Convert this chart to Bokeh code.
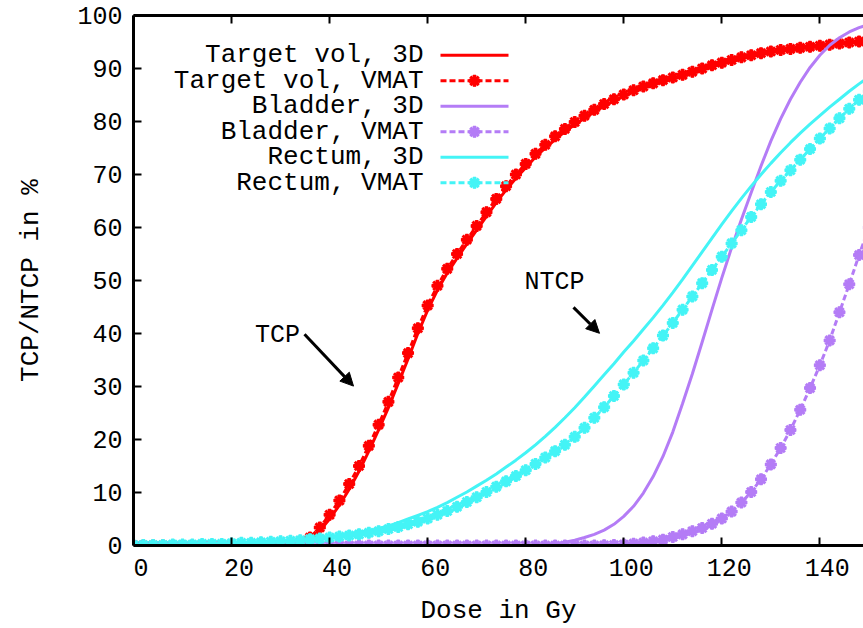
from bokeh.plotting import figure
from bokeh.models import (Range1d, LinearAxis, SingleIntervalTicker, Arrow, NormalHead,
                          Label, CustomJSTickFormatter)
from bokeh.embed import file_html
from bokeh.resources import INLINE

# ---------------- data ----------------
dose = [0, 2, 4, 6, 8, 10, 12, 14, 16, 18, 20, 22, 24, 26, 28, 30, 32, 34, 36, 38,
        40, 42, 44, 46, 48, 50, 52, 54, 56, 58, 60, 62, 64, 66, 68, 70, 72, 74, 76, 78,
        80, 82, 84, 86, 88, 90, 92, 94, 96, 98, 100, 102, 104, 106, 108, 110, 112, 114, 116, 118,
        120, 122, 124, 126, 128, 130, 132, 134, 136, 138, 140, 142, 144, 146, 148, 150]

target_3d = [0, 0, 0, 0, 0, 0, 0, 0, 0, 0, 0, 0, 0, 0, 0, 0, 0.1, 0.3, 1.0, 2.8,
             5.0, 7.6, 10.6, 14.0, 17.8, 21.8, 26.0, 30.6, 35.2, 40.0, 44.4, 48.2, 51.4, 54.2, 56.9, 59.5, 62.1, 64.7, 67.1, 69.3,
             71.3, 73.3, 75.0, 76.6, 78.1, 79.4, 80.6, 81.8, 82.9, 83.9, 84.8, 85.6, 86.4, 87.0, 87.6, 88.1, 88.6, 89.2, 89.8, 90.4,
             91.0, 91.5, 92.0, 92.4, 92.8, 93.1, 93.4, 93.6, 93.8, 94.0, 94.2, 94.4, 94.6, 94.8, 95.0, 95.1]

target_vmat = [0, 0, 0, 0, 0, 0, 0, 0, 0, 0, 0, 0, 0, 0, 0, 0, 0.2, 0.6, 1.5, 3.4,
               5.8, 8.5, 11.6, 15.0, 18.8, 22.8, 27.1, 31.7, 36.3, 41.0, 45.3, 49.0, 52.2, 55.0, 57.7, 60.3, 62.9, 65.4, 67.8, 70.0,
               72.0, 73.9, 75.6, 77.2, 78.6, 79.9, 81.1, 82.2, 83.3, 84.2, 85.1, 85.9, 86.6, 87.2, 87.8, 88.3, 88.8, 89.4, 90.0, 90.6,
               91.1, 91.6, 92.1, 92.5, 92.9, 93.2, 93.5, 93.7, 93.9, 94.1, 94.3, 94.5, 94.7, 94.9, 95.1, 95.2]

bladder_3d = [0, 0, 0, 0, 0, 0, 0, 0, 0, 0, 0, 0, 0, 0, 0, 0, 0, 0, 0, 0,
              0, 0, 0, 0, 0, 0, 0, 0, 0, 0, 0, 0, 0, 0, 0, 0, 0, 0, 0, 0,
              0, 0.05, 0.15, 0.3, 0.6, 1.0, 1.5, 2.1, 2.9, 4.0, 5.5, 7.4, 9.9, 13.0, 16.8, 21.4, 26.8, 32.4, 38.4, 44.5,
              50.5, 56.2, 61.5, 66.6, 71.6, 76.3, 80.5, 84.2, 87.4, 90.2, 92.5, 94.4, 95.8, 96.9, 97.7, 98.3]

bladder_vmat = [0, 0, 0, 0, 0, 0, 0, 0, 0, 0, 0, 0, 0, 0, 0, 0, 0, 0, 0, 0,
                0, 0, 0, 0, 0, 0, 0, 0, 0, 0, 0, 0, 0, 0, 0, 0, 0, 0, 0, 0,
                0, 0, 0, 0, 0, 0, 0, 0, 0.05, 0.1, 0.2, 0.35, 0.55, 0.8, 1.1, 1.6, 2.1, 2.7, 3.3, 4.1,
                5.1, 6.4, 8.1, 10.1, 12.5, 15.3, 18.4, 21.8, 25.6, 29.7, 34.0, 38.7, 44.0, 49.3, 54.8, 60.0]

rectum_3d = [0.1, 0.1, 0.1, 0.2, 0.2, 0.2, 0.3, 0.3, 0.4, 0.4, 0.5, 0.5, 0.6, 0.7, 0.8, 0.9, 1.0, 1.1, 1.3, 1.5,
             1.7, 1.9, 2.2, 2.5, 2.8, 3.2, 3.7, 4.3, 5.0, 5.7, 6.4, 7.2, 8.1, 9.1, 10.1, 11.2, 12.3, 13.5, 14.8, 16.1,
             17.5, 19.0, 20.6, 22.3, 24.1, 26.0, 28.0, 30.1, 32.2, 34.3, 36.5, 38.6, 40.8, 43.0, 45.3, 47.7, 50.2, 52.8, 55.4, 58.0,
             60.6, 63.1, 65.5, 67.8, 70.0, 72.1, 74.1, 76.0, 77.8, 79.5, 81.1, 82.7, 84.2, 85.7, 87.1, 88.4]

rectum_vmat = [0.1, 0.1, 0.1, 0.1, 0.2, 0.2, 0.2, 0.3, 0.3, 0.3, 0.4, 0.5, 0.5, 0.6, 0.7, 0.8, 0.9, 1.0, 1.2, 1.3,
               1.5, 1.7, 1.9, 2.1, 2.4, 2.7, 3.1, 3.5, 4.0, 4.5, 5.1, 5.8, 6.5, 7.3, 8.2, 9.1, 10.1, 11.1, 12.1, 13.1,
               14.2, 15.4, 16.6, 17.8, 19.0, 20.5, 22.2, 24.1, 26.1, 28.2, 30.4, 32.6, 34.9, 37.2, 39.6, 42.0, 44.5, 47.0, 49.5, 52.0,
               54.5, 57.0, 59.5, 62.0, 64.4, 66.7, 68.8, 70.8, 72.8, 74.8, 76.8, 78.7, 80.6, 82.4, 84.1, 85.7]

series_names = ["Target vol, 3D", "Target vol, VMAT", "Bladder, 3D",
                "Bladder, VMAT", "Rectum, 3D", "Rectum, VMAT"]
x_ticks_major = 20
y_ticks_major = 10
x_title = "Dose in Gy"
y_title = "TCP/NTCP in %"

# ---------------- layout / style ----------------
W, H = 863, 628
LEFT, TOP, BOTTOM = 133, 15, 547
PX_PER_GY = 4.9025
X_END = (W - LEFT) / PX_PER_GY
PX_PER_PCT = (BOTTOM - TOP) / 100.0

RED = "#ff0000"
PURPLE = "#b47cf6"
CYAN = "#44f4f6"
FONT = "Liberation Mono"
TICK_FS = "25px"
TITLE_FS = "26px"
LEG_FS = "26px"


def gx(px):
    return (px - LEFT) / PX_PER_GY


def gy(py):
    return (BOTTOM - py) / PX_PER_PCT


p = figure(width=W, height=H, x_range=Range1d(0, X_END), y_range=Range1d(0, 100),
           output_backend="svg", toolbar_location=None,
           min_border_left=LEFT, min_border_right=0, min_border_top=TOP,
           min_border_bottom=H - BOTTOM)
p.grid.visible = False
p.outline_line_color = None
p.background_fill_color = "white"
p.border_fill_color = "white"

xa = p.xaxis[0]
ya = p.yaxis[0]
xa.ticker = SingleIntervalTicker(interval=x_ticks_major, num_minor_ticks=0)
ya.ticker = SingleIntervalTicker(interval=y_ticks_major, num_minor_ticks=0)
xa.major_label_overrides = {t: "\u00a0" + str(t) for t in range(0, 160, x_ticks_major)}
for ax in (xa, ya):
    ax.axis_line_width = 3
    ax.axis_line_color = "black"
    ax.major_tick_in = 8
    ax.major_tick_out = 0
    ax.major_tick_line_width = 2
    ax.minor_tick_line_color = None
    ax.major_label_text_font = FONT
    ax.major_label_text_font_size = TICK_FS
    ax.major_label_text_color = "black"
    ax.axis_label_text_font = FONT
    ax.axis_label_text_font_size = TITLE_FS
    ax.axis_label_text_font_style = "normal"
    ax.axis_label_text_color = "black"
xa.axis_label = x_title
ya.axis_label = y_title
xa.major_label_standoff = 9
xa.axis_label_standoff = 9
ya.major_label_standoff = 11
ya.axis_label_standoff = 28

top = LinearAxis(ticker=SingleIntervalTicker(interval=x_ticks_major, num_minor_ticks=0),
                 formatter=CustomJSTickFormatter(code="return ''"),
                 axis_line_width=3, major_tick_in=8, major_tick_out=0,
                 major_tick_line_width=2, minor_tick_line_color=None,
                 major_label_standoff=0, major_label_text_font_size="1px")
p.add_layout(top, "above")

# ---------------- curves ----------------
curves = [
    (target_3d, RED, False),
    (target_vmat, RED, True),
    (bladder_3d, PURPLE, False),
    (bladder_vmat, PURPLE, True),
    (rectum_3d, CYAN, False),
    (rectum_vmat, CYAN, True),
]
MARK_SIZE = 12
MARK_LW = 3


def vmat_markers(xs, ys, col):
    p.scatter(xs, ys, marker="asterisk", size=MARK_SIZE, line_color=col, line_width=MARK_LW)
    p.scatter(xs, ys, marker="cross", size=MARK_SIZE - 1, line_color=col, line_width=MARK_LW + 1)


for vals, col, vmat in curves:
    if vmat:
        p.line(dose, vals, line_color=col, line_width=3, line_dash="6 3")
        vmat_markers(dose, vals, col)
    else:
        p.line(dose, vals, line_color=col, line_width=3)

# ---------------- legend (gnuplot style: text left of sample) ----------------
LEG_TEXT_RIGHT = 423
LEG_LINE = (440, 508)
LEG_Y0, LEG_DY = 55, 25.6
for i, (name, (vals, col, vmat)) in enumerate(zip(series_names, curves)):
    yv = gy(LEG_Y0 + i * LEG_DY)
    p.add_layout(Label(x=gx(LEG_TEXT_RIGHT), y=yv, text=name, text_align="right",
                       text_baseline="middle", text_font=FONT, text_font_size=LEG_FS,
                       text_color="black"))
    xs = [gx(LEG_LINE[0]), gx(LEG_LINE[1])]
    if vmat:
        p.line(xs, [yv, yv], line_color=col, line_width=3, line_dash="6 3")
        vmat_markers([sum(xs) / 2], [yv], col)
    else:
        p.line(xs, [yv, yv], line_color=col, line_width=3)

# ---------------- annotations ----------------
p.add_layout(Label(x=gx(277), y=gy(336), text="TCP", text_align="center",
                   text_baseline="middle", text_font=FONT, text_font_size=TICK_FS,
                   text_color="black"))
p.add_layout(Arrow(end=NormalHead(size=13, fill_color="black", line_color="black"),
                   x_start=gx(304), y_start=gy(335), x_end=gx(353), y_end=gy(387),
                   line_width=3, line_color="black"))
p.add_layout(Label(x=gx(554), y=gy(283), text="NTCP", text_align="center",
                   text_baseline="middle", text_font=FONT, text_font_size=TICK_FS,
                   text_color="black"))
p.add_layout(Arrow(end=NormalHead(size=13, fill_color="black", line_color="black"),
                   x_start=gx(573), y_start=gy(308), x_end=gx(599), y_end=gy(334),
                   line_width=3, line_color="black"))

open("out.html", "w").write(file_html(p, INLINE))
